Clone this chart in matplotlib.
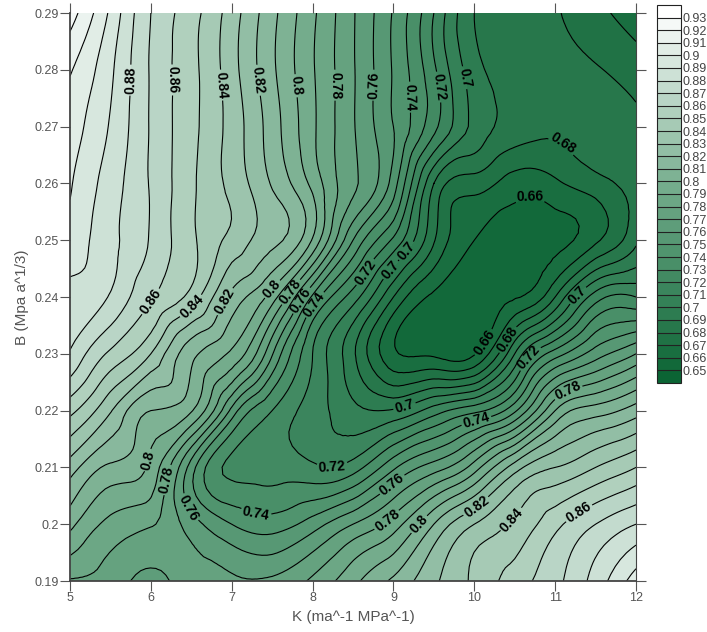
import numpy as np
import matplotlib
matplotlib.use("Agg")
import matplotlib.pyplot as plt
import matplotlib.tri as mtri
from matplotlib.colors import LinearSegmentedColormap, ListedColormap

plt.rcParams["font.family"] = ["Liberation Sans", "DejaVu Sans"]

# grid
k_vals = [5.0, 5.5, 6.0, 6.5, 7.0, 7.5, 8.0, 8.5, 9.0, 9.5, 10.0, 10.5, 11.0, 11.5, 12.0]
b_vals = [0.19, 0.20, 0.21, 0.22, 0.23, 0.24, 0.25, 0.26, 0.27, 0.28, 0.29]

row_019 = [0.779, 0.776, 0.766, 0.775, 0.772, 0.772, 0.782, 0.797, 0.812, 0.828, 0.842, 0.855, 0.867, 0.884, 0.905]
row_020 = [0.803, 0.787, 0.781, 0.765, 0.750, 0.745, 0.755, 0.770, 0.785, 0.810, 0.830, 0.842, 0.857, 0.870, 0.880]
row_021 = [0.825, 0.808, 0.797, 0.755, 0.728, 0.726, 0.722, 0.725, 0.748, 0.765, 0.785, 0.815, 0.830, 0.840, 0.850]
row_022 = [0.853, 0.831, 0.810, 0.801, 0.757, 0.730, 0.715, 0.703, 0.701, 0.715, 0.727, 0.748, 0.790, 0.805, 0.815]
row_023 = [0.879, 0.858, 0.840, 0.813, 0.798, 0.761, 0.720, 0.692, 0.662, 0.658, 0.659, 0.700, 0.735, 0.755, 0.770]
row_024 = [0.887, 0.879, 0.861, 0.846, 0.817, 0.795, 0.748, 0.715, 0.680, 0.658, 0.657, 0.659, 0.680, 0.715, 0.720]
row_025 = [0.896, 0.883, 0.869, 0.852, 0.837, 0.823, 0.799, 0.750, 0.718, 0.681, 0.660, 0.656, 0.657, 0.668, 0.688]
row_026 = [0.901, 0.885, 0.869, 0.852, 0.837, 0.819, 0.797, 0.772, 0.745, 0.690, 0.675, 0.665, 0.668, 0.676, 0.684]
row_027 = [0.905, 0.889, 0.869, 0.853, 0.836, 0.815, 0.792, 0.771, 0.750, 0.723, 0.697, 0.686, 0.682, 0.686, 0.683]
row_028 = [0.911, 0.892, 0.869, 0.853, 0.834, 0.812, 0.791, 0.771, 0.749, 0.722, 0.694, 0.686, 0.684, 0.681, 0.675]
row_029 = [0.925, 0.898, 0.870, 0.854, 0.835, 0.813, 0.792, 0.771, 0.749, 0.720, 0.690, 0.686, 0.681, 0.673, 0.665]

levels = [0.65, 0.66, 0.67, 0.68, 0.69, 0.70, 0.71, 0.72, 0.73, 0.74, 0.75, 0.76, 0.77,
          0.78, 0.79, 0.80, 0.81, 0.82, 0.83, 0.84, 0.85, 0.86, 0.87, 0.88, 0.89, 0.90,
          0.91, 0.92, 0.93]

# where the inline labels sit (K, B)
label_spots = [(5.68, 0.2782), (6.24, 0.2782), (6.86, 0.2773), (7.35, 0.2782), (7.88, 0.2773),
               (8.30, 0.2773), (8.75, 0.2773), (9.23, 0.2752), (9.58, 0.2770), (9.92, 0.2787),
               (11.12, 0.2676), (10.69, 0.2580), (5.99, 0.2393), (6.54, 0.2377), (6.88, 0.2395),
               (7.47, 0.2418), (7.72, 0.2410), (7.84, 0.2396), (8.05, 0.2384), (8.61, 0.2448),
               (8.92, 0.2453), (9.18, 0.2479), (10.11, 0.2321), (10.38, 0.2328), (10.71, 0.2289),
               (11.25, 0.2407), (9.14, 0.2206), (10.01, 0.2189), (11.16, 0.2233), (8.24, 0.2113),
               (5.95, 0.2113), (6.20, 0.2078), (6.57, 0.2037), (7.31, 0.2025), (8.96, 0.2074),
               (8.92, 0.2007), (9.30, 0.2002), (10.03, 0.2030), (10.47, 0.2007), (11.27, 0.2025)]

z = np.array([row_019, row_020, row_021, row_022, row_023, row_024,
              row_025, row_026, row_027, row_028, row_029])
kk, bb = np.meshgrid(k_vals, b_vals)
tri = mtri.Triangulation(kk.ravel(), bb.ravel())
refiner = mtri.UniformTriRefiner(tri)
tri_f, z_f = refiner.refine_field(z.ravel(), subdiv=3)
# keep the smoothed surface inside the range of the read values (no cubic undershoot)
z_f = np.clip(z_f, z.min(), z.max())

ramp = LinearSegmentedColormap.from_list("g", ["#0b6434", "#6fa988", "#ffffff"], N=30)
cols = ramp(np.linspace(0, 1, 30))
cmap = ListedColormap(cols[1:-1])
cmap.set_under(cols[0])
cmap.set_over(cols[-1])

fig = plt.figure(figsize=(7.07, 6.32), dpi=100)
ax = fig.add_axes([70 / 707, 1 - 581 / 632, 566 / 707, 568 / 632])

cs = ax.tricontourf(tri_f, z_f, levels=levels, cmap=cmap, extend="both")
# odd levels plain, even levels carry the labels
ax.tricontour(tri_f, z_f, levels=levels[0::2], colors="black", linewidths=0.8)
cl = ax.tricontour(tri_f, z_f, levels=levels[1::2], colors="black", linewidths=0.8)
ax.clabel(cl, fmt="%g", fontsize=10, inline=True, inline_spacing=2, manual=label_spots)
for t in cl.labelTexts:
    t.set_fontweight("bold")

ax.set_xlim(5, 12)
ax.set_ylim(0.19, 0.29)
ax.set_xticks(range(5, 13))
ax.set_yticks(b_vals)
ax.set_yticklabels([f"{v:g}" for v in b_vals])
ax.tick_params(colors="#555555", labelsize=9, length=7, width=0.8, direction="out",
               top=True, right=True, pad=1)
ax.spines["top"].set_visible(False)
for s in ["left", "bottom"]:
    ax.spines[s].set_color("#444444")
    ax.spines[s].set_linewidth(1.3)
ax.spines["right"].set_color("#444444")
ax.spines["right"].set_linewidth(0.8)
ax.set_xlabel("K (ma^-1 MPa^-1)", color="#555555", fontsize=11, labelpad=4)
ax.set_ylabel("B (Mpa a^1/3)", color="#555555", fontsize=11, labelpad=4)

cax = fig.add_axes([657 / 707, 1 - 383 / 632, 24 / 707, 378 / 632])
cb = fig.colorbar(cs, cax=cax, extend="both", extendrect=True, extendfrac="auto",
                  drawedges=True, ticks=levels)
cb.ax.set_yticklabels([f"{v:g}" for v in levels])
cb.ax.tick_params(length=0, labelsize=9, colors="#444444", pad=1)
cb.outline.set_edgecolor("#222222")
cb.outline.set_linewidth(0.8)
cb.dividers.set_color("#222222")
cb.dividers.set_linewidth(0.8)

fig.savefig("out.png", dpi=100)
